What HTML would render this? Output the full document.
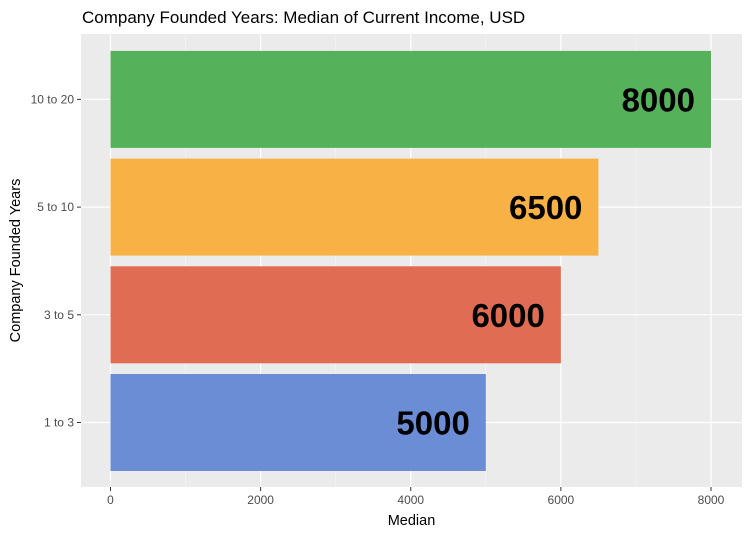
<!DOCTYPE html>
<html><head><meta charset="utf-8"><style>
body{margin:0;background:#fff;font-family:"Liberation Sans",Arial,sans-serif}
</style></head><body>
<svg width="750" height="536" xmlns="http://www.w3.org/2000/svg">
<g id="chart"></g>
</svg>
<script>
const categories=["1 to 3","3 to 5","5 to 10","10 to 20"];
const values=[5000,6000,6500,8000];
const colors=["#6a8dd6","#e06c53","#f8b145","#55b25a"];
const xTicks=[0,2000,4000,6000,8000];
const NS="http://www.w3.org/2000/svg";
const g=document.getElementById('chart');
const L=81,R=742,T=34,B=487;
const x=v=>110.5+v*(711-110.5)/8000;
const band=107.7;
const bh=97;
const pad=16;
const yc=i=>B-pad-bh/2-band*i;
function mk(t,a,txt){const e=document.createElementNS(NS,t);for(const k in a)e.setAttribute(k,a[k]);if(txt!=null)e.textContent=txt;g.appendChild(e);return e;}
let e=mk('rect',{x:L,y:T,width:R-L,height:B-T,fill:'#ebebeb'});

for(let i=0;i<xTicks.length-1;i++){const m=(xTicks[i]+xTicks[i+1])/2;e=mk('line',{x1:x(m),x2:x(m),y1:T,y2:B,stroke:'#f5f5f5','stroke-width':0.6});
}
xTicks.forEach(t=>{e=mk('line',{x1:x(t),x2:x(t),y1:T,y2:B,stroke:'#fff','stroke-width':1.2});

e=mk('line',{x1:x(t),x2:x(t),y1:B,y2:B+4,stroke:'#333','stroke-width':1});

e=mk('text',{x:x(t),y:B+17,'font-size':12,fill:'#4d4d4d','text-anchor':'middle'},t);
});
categories.forEach((c,i)=>{e=mk('line',{x1:L,x2:R,y1:yc(i),y2:yc(i),stroke:'#fff','stroke-width':1.2});

e=mk('line',{x1:L-4,x2:L,y1:yc(i),y2:yc(i),stroke:'#333','stroke-width':1});

e=mk('text',{x:L-7,y:yc(i)+4,'font-size':12,fill:'#4d4d4d','text-anchor':'end'},c);
});
categories.forEach((c,i)=>{e=mk('rect',{x:x(0),y:yc(i)-bh/2,width:x(values[i])-x(0),height:bh,fill:colors[i]});

e=mk('text',{x:x(values[i])-16,y:yc(i)+12,'font-size':33,'font-weight':'bold',fill:'#000','text-anchor':'end'},values[i]);
});
e=mk('text',{x:82,y:23,'font-size':17,fill:'#000'},'Company Founded Years: Median of Current Income, USD');

e=mk('text',{x:(L+R)/2,y:525,'font-size':14.5,fill:'#000','text-anchor':'middle'},'Median');

e=mk('text',{x:0,y:0,'font-size':14.5,fill:'#000','text-anchor':'middle',transform:'translate(20,'+((T+B)/2)+') rotate(-90)'},'Company Founded Years');

</script>
</body></html>
